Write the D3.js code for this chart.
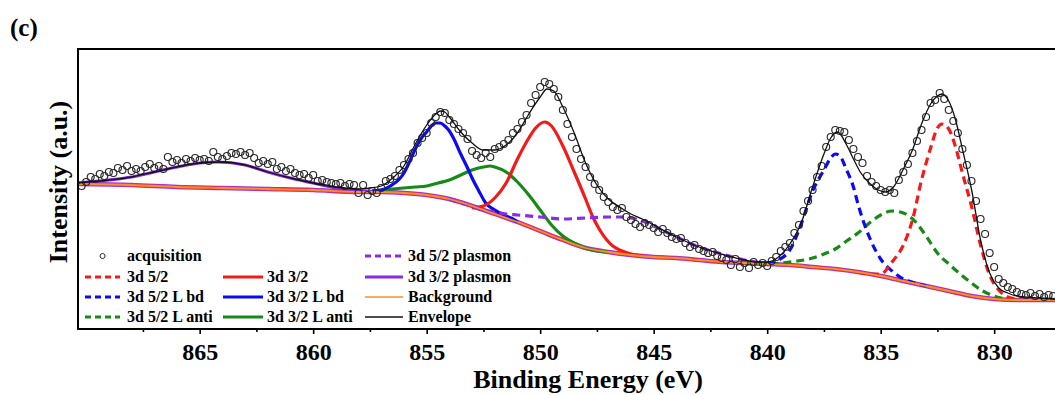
<!DOCTYPE html>
<html>
<head>
<meta charset="utf-8">
<script src="https://cdn.jsdelivr.net/npm/d3@7"></script>
<style>
  body { margin: 0; background: #fff; }
  text { font-family: "Liberation Serif", "Times New Roman", serif; font-weight: bold; }
</style>
</head>
<body>
<div id="chart"></div>
<script>
// acquisition: measured points, 0.2 eV step starting at 870.2 eV
var acqStart = 870.2, acqStep = 0.2;
var acquisition = [
  143,147,152,150,155,153,157,156,161,159,
  163,158,160,158,162,165,161,163,160,172,
  167,169,166,170,168,171,169,170,168,177,
  172,170,173,176,175,177,174,176,171,166,
  168,165,167,160,162,158,160,156,154,155,
  151,154,148,149,147,146,145,146,143,145,
  144,136,144,134,138,136,141,148,150,153,
  159,164,170,176,186,191,196,206,212,217,
  216,209,205,200,196,190,178,174,171,176,
  172,180,182,185,189,196,200,207,214,226,
  234,242,247,245,240,232,219,205,192,180,
  170,162,152,145,139,132,127,122,119,121,
  112,109,105,102,106,104,101,97,100,96,
  92,90,91,86,82,84,80,78,76,77,
  73,71,69,64,70,62,66,61,67,64,
  66,63,68,72,78,82,86,96,104,118,
  128,139,152,163,182,192,199,198,197,189,
  180,172,166,153,147,143,139,137,139,136,
  149,157,165,176,188,199,212,226,229,236,
  230,219,208,196,180,164,148,128,110,95,
  76,62,50,46,42,40,37,35,34,36,
  33,35,32,34,33
];

// fitted curves, [binding energy (eV), intensity (a.u.)], background included
var background = [[870.4,145],[868,144],[866,142],[864,141],[862,140],[860,139],[858,137],[857,137],[856,136],[855,134],[854,130],[853,123],[852,115],[851,107],[850,98],[849,89],[848,81],[847,77],[846,74],[845,72],[844,71],[843,69],[842,67],[841,66],[840,65],[839,64],[838,62],[837,60],[836,57],[835,53],[834,48],[833,43],[832,38],[831,33],[830,30],[829,29],[827.3,29]];
var d52 = [[836,57],[835.5,55],[835,55],[834.5,67],[834,84],[833.6,109],[833.2,149],[832.8,181],[832.5,201],[832.3,205],[832,200],[831.7,182],[831.4,156],[831,123],[830.6,84],[830.2,54],[829.8,39],[829.4,32],[829,30]];
var d52Lbd = [[840,65],[839.5,69],[839,79],[838.5,105],[838,138],[837.5,159],[837.2,171],[837,175],[836.8,173],[836.5,159],[836.2,142],[836,125],[835.5,92],[835,70],[834.5,58],[834,50],[833.5,46],[833,43]];
var d52Lanti = [[841,66],[840,65],[839,67],[838,71],[837.5,75],[837,80],[836.5,88],[836,96],[835.5,106],[835,114],[834.5,118],[834,116],[833.5,108],[833,93],[832.5,76],[832,65],[831.5,55],[831,46],[830.5,38],[830,33],[829.5,30],[829,29]];
var d32 = [[853,121],[852.5,123],[852,131],[851.5,146],[851,170],[850.5,191],[850.2,201],[849.8,207],[849.5,203],[849,183],[848.5,157],[848,130],[847.7,113],[847.4,100],[847.1,90],[846.8,83],[846.5,79],[846,75],[845.5,73]];
var d32Lbd = [[857.4,138],[857,139],[856.6,143],[856.2,150],[856,156],[855.8,165],[855.5,180],[855.2,192],[855,197],[854.8,203],[854.6,206],[854.4,206],[854.2,203],[854,198],[853.8,190],[853.5,175],[853.2,161],[853,151],[852.7,138],[852.4,126],[852,119],[851.6,114],[851.2,110],[851,107]];
var d32Lanti = [[857.4,138],[856.5,140],[855.5,142],[855,143],[854.5,146],[854,149],[853.5,154],[853,159],[852.5,162],[852.2,163],[852,162],[851.5,157],[851,147],[850.5,134],[850,119],[849.5,104],[849,93],[848.5,86],[848,81],[847.5,78],[847,77]];
var plasmon52 = [[854,130],[853.5,126],[853,123],[852.5,119],[852,117],[851.5,115],[851,114],[850,112],[849,110],[848,111],[847,112],[846.5,112],[846,111],[845.5,108],[845,103],[844,92],[843,82],[842,75],[841,69],[840.5,67],[840,65]];
var plasmon32 = [[870.4,146],[869,149],[868,152],[867,157],[866,162],[865,166],[864.2,167],[863,164],[862,157],[861,151],[860,146],[859,141],[858,138],[857,137]];
var envelope = [[870.4,146],[869,149],[868,152],[867,157],[866,162],[865,166],[864,167],[863,164],[862,157],[861,151],[860,146],[859,142],[858,140],[857.5,141],[857,143],[856.5,151],[856,163],[855.5,185],[855,204],[854.6,215],[854.4,218],[854.2,217],[854,212],[853.5,197],[853,186],[852.5,179],[852,179],[851.5,184],[851,196],[850.5,215],[850,232],[849.7,240],[849.4,238],[849,222],[848.5,196],[848,166],[847.5,144],[847,130],[846.5,122],[846,115],[845.5,110],[845,104],[844,92],[843,82],[842,75],[841,69],[840.5,67],[840,67],[839.5,72],[839,85],[838.5,106],[838,142],[837.5,175],[837.2,191],[836.9,197],[836.5,184],[836.2,170],[835.9,157],[835.5,146],[835.1,139],[834.8,137],[834.4,143],[834,160],[833.6,179],[833.2,205],[832.8,225],[832.5,233],[832.3,235],[832,228],[831.7,209],[831.4,180],[831,140],[830.6,89],[830.2,56],[829.8,41],[829.4,36],[829,33],[828,31],[827.3,30]];

var majorTicks = [865, 860, 855, 850, 845, 840, 835, 830];
var minorTicks = [867.5, 862.5, 857.5, 852.5, 847.5, 842.5, 837.5, 832.5];

var width = 1055, height = 395;
var plotLeft = 78, plotTop = 49, plotBottom = 329;

var svg = d3.select("#chart").append("svg")
    .attr("width", width)
    .attr("height", height);

var x = d3.scaleLinear().domain([870.36, 827.32]).range([plotLeft, width]);
var y = d3.scaleLinear().domain([0, 280]).range([plotBottom, plotTop]);

svg.append("defs").append("clipPath").attr("id", "plot")
  .append("rect").attr("x", plotLeft).attr("y", plotTop)
  .attr("width", width - plotLeft).attr("height", plotBottom - plotTop);

var line = d3.line()
    .x(function (d) { return x(d[0]); })
    .y(function (d) { return y(d[1]); })
    .curve(d3.curveMonotoneX);

var g = svg.append("g").attr("clip-path", "url(#plot)");

// component tails run along the background
g.append("path").datum(background).attr("d", line)
  .attr("fill", "none").attr("stroke", "#9b30e8").attr("stroke-width", 4.5);
g.append("path").datum(background).attr("d", line)
  .attr("fill", "none").attr("stroke", "#f0303a").attr("stroke-width", 3.2);

var series = [
  { data: plasmon32, color: "#8b2be8", dash: null },
  { data: d32Lanti, color: "#168a16", dash: null },
  { data: d32Lbd, color: "#0a0af5", dash: null },
  { data: d32, color: "#f51a1a", dash: null },
  { data: plasmon52, color: "#8b2be8", dash: "8,5" },
  { data: d52Lanti, color: "#168a16", dash: "8,5" },
  { data: d52Lbd, color: "#0a0af5", dash: "8,5" },
  { data: d52, color: "#f51a1a", dash: "8,5" }
];
series.forEach(function (s) {
  g.append("path").datum(s.data).attr("d", line)
    .attr("fill", "none")
    .attr("stroke", s.color)
    .attr("stroke-width", 3.2)
    .attr("stroke-dasharray", s.dash);
});

g.append("path").datum(background).attr("d", line)
  .attr("fill", "none").attr("stroke", "#f7912a").attr("stroke-width", 1.8);

g.selectAll("circle.acq")
  .data(acquisition)
  .enter().append("circle")
  .attr("class", "acq")
  .attr("cx", function (d, i) { return x(acqStart - i * acqStep); })
  .attr("cy", function (d) { return y(d); })
  .attr("r", 3.5)
  .attr("fill", "none")
  .attr("stroke", "#2a2a2a")
  .attr("stroke-width", 1.15);

g.append("path").datum(envelope).attr("d", line)
  .attr("fill", "none").attr("stroke", "#111").attr("stroke-width", 1.3);

// frame
svg.append("rect")
  .attr("x", plotLeft).attr("y", plotTop)
  .attr("width", width + 10 - plotLeft).attr("height", plotBottom - plotTop)
  .attr("fill", "none").attr("stroke", "#000").attr("stroke-width", 2);

// x axis
var xAxis = svg.append("g")
    .attr("transform", "translate(0," + plotBottom + ")")
    .call(d3.axisBottom(x).tickValues(majorTicks).tickSize(5).tickPadding(9).tickFormat(d3.format("d")));
xAxis.select(".domain").remove();
xAxis.selectAll("line").attr("stroke-width", 1.6);
xAxis.selectAll("text").style("font-size", "24px").style("font-family", "Liberation Serif").style("font-weight", "bold").attr("fill", "#000");

var xMinor = svg.append("g")
    .attr("transform", "translate(0," + plotBottom + ")")
    .call(d3.axisBottom(x).tickValues(minorTicks).tickSize(3).tickFormat(""));
xMinor.select(".domain").remove();
xMinor.selectAll("line").attr("stroke-width", 1.6);

svg.append("text")
  .attr("x", 588).attr("y", 388)
  .attr("text-anchor", "middle")
  .style("font-size", "26px")
  .text("Binding Energy (eV)");

svg.append("text")
  .attr("transform", "translate(67,182) rotate(-90)")
  .attr("text-anchor", "middle")
  .style("font-size", "26px")
  .text("Intensity (a.u.)");

svg.append("text")
  .attr("x", 10).attr("y", 36)
  .style("font-size", "25px")
  .text("(c)");

// legend
var legendItems = [
  { label: "acquisition", type: "circle", color: "#2a2a2a", dash: null },
  { label: "3d 5/2", type: "line", color: "#f51a1a", dash: "6,4" },
  { label: "3d 5/2 L bd", type: "line", color: "#0a0af5", dash: "6,4" },
  { label: "3d 5/2 L anti", type: "line", color: "#168a16", dash: "6,4" },
  null,
  { label: "3d 3/2", type: "line", color: "#f51a1a", dash: null },
  { label: "3d 3/2 L bd", type: "line", color: "#0a0af5", dash: null },
  { label: "3d 3/2 L anti", type: "line", color: "#168a16", dash: null },
  { label: "3d 5/2 plasmon", type: "line", color: "#8b2be8", dash: "6,4" },
  { label: "3d 3/2 plasmon", type: "line", color: "#8b2be8", dash: null },
  { label: "Background", type: "thin", color: "#f7912a", dash: null },
  { label: "Envelope", type: "thin", color: "#111", dash: null }
];
var colX = [[85, 120, 127], [223, 263, 267], [365, 403, 408]];
var rowY = [256, 277, 297, 317];

legendItems.forEach(function (it, i) {
  if (!it) return;
  var c = Math.floor(i / 4), r = i % 4;
  var cx = colX[c], cy = rowY[r];
  if (it.type === "circle") {
    svg.append("circle").attr("cx", (cx[0] + cx[1]) / 2).attr("cy", cy).attr("r", 2.5)
      .attr("fill", "none").attr("stroke", it.color).attr("stroke-width", 1);
  } else {
    svg.append("line")
      .attr("x1", cx[0]).attr("x2", cx[1]).attr("y1", cy).attr("y2", cy)
      .attr("stroke", it.color)
      .attr("stroke-width", it.type === "thin" ? 1.6 : 3.2)
      .attr("stroke-dasharray", it.dash);
  }
  svg.append("text")
    .attr("x", cx[2]).attr("y", cy + 5)
    .style("font-size", "16px")
    .text(it.label);
});
</script>
</body>
</html>
